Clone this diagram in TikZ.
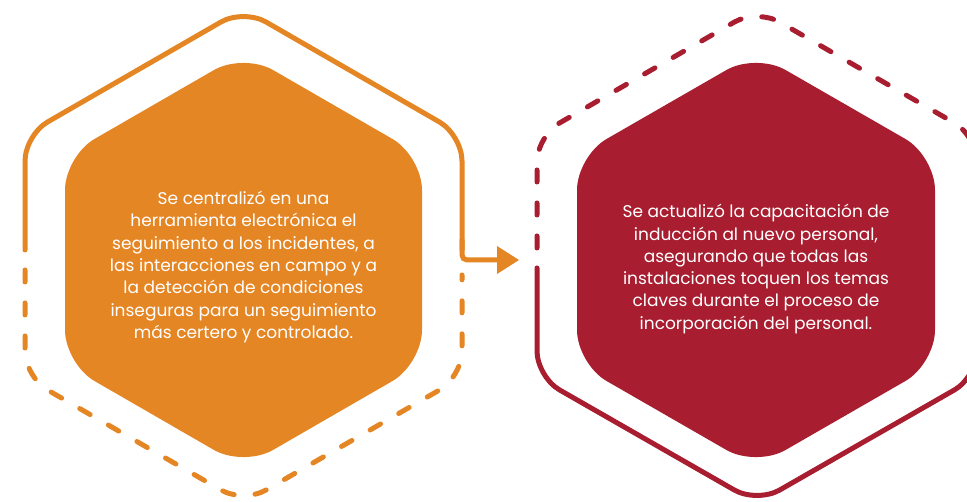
\documentclass[tikz,border=0pt]{standalone}
\usepackage{fontspec}
\setmainfont{Poppins}
\usetikzlibrary{arrows.meta}
\definecolor{corange}{RGB}{229,134,37}
\definecolor{cred}{RGB}{168,30,48}
\begin{document}
\begin{tikzpicture}[x=1pt,y=-1pt,
  outline/.style={line width=5pt, line cap=round, line join=round, rounded corners=26pt},
  dashline/.style={outline, dash pattern=on 12pt off 21pt},
  innerhex/.style={rounded corners=34pt},
  txt/.style={text=white, align=center, font=\fontsize{17}{22.3}\selectfont, inner sep=0pt}]
\useasboundingbox (0,0) rectangle (967,502);
\clip (0,0) rectangle (967,502);
% ---------- left (orange) ----------
\fill[corange, innerhex] (243.5,53) -- (422,156) -- (422,364) -- (243.5,467) -- (65,364) -- (65,156) -- cycle;
\draw[corange, outline] (25,250) -- (25,135) -- (243.5,9) -- (462,135) -- (462,250);
\draw[corange, dashline] (25,270) -- (25,377) -- (243.5,503) -- (462,377) -- (462,275);
% ---------- right (red) ----------
\fill[cred, innerhex] (756,53) -- (935,156) -- (935,364) -- (756,467) -- (577,364) -- (577,156) -- cycle;
\draw[cred, outline] (537,268) -- (537,377) -- (757,503) -- (977,377) -- (977,268);
\draw[cred, dashline] (537,248) -- (537,136) -- (757,9) -- (977,136) -- (977,248);
% ---------- texts ----------
\node[txt] (tL) at (243.5,267) {Se centralizó en una\\herramienta electrónica el\\seguimiento a los incidentes, a\\las interacciones en campo y a\\la detección de condiciones\\inseguras para un seguimiento\\más certero y controlado.};
\node[txt] (tR) at (756,269) {Se actualizó la capacitación de\\inducción al nuevo personal,\\asegurando que todas las\\instalaciones toquen los temas\\claves durante el proceso de\\incorporación del personal.};
% ---------- arrow ----------
\coordinate (aS) at (462,240);
\coordinate (aM) at (499,260);
\coordinate (aE) at (519,260);
\draw[corange, line width=5pt, line cap=round, rounded corners=5pt] (aS) |- (aM);
\fill[corange] (497,246) -- (aE) -- (497,274) -- cycle;
\end{tikzpicture}
\end{document}
